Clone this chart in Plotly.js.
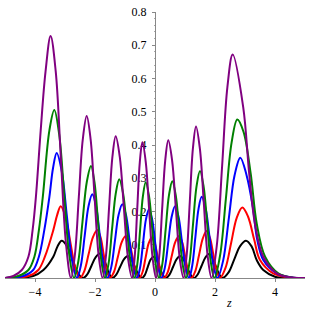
<!DOCTYPE html>
<html><head><meta charset="utf-8">
<script src="https://cdn.plot.ly/plotly-3.0.1.min.js"></script>
<style>html,body{margin:0;padding:0;background:#fff;}#plot{width:312px;height:312px;}</style>
</head><body><div id="plot"></div>
<script>
const xTickVals = [-4, -2, 0, 2, 4];
const xTickText = ["\u22124", "\u22122", "0", "2", "4"];
const yTickVals = [0.1, 0.2, 0.3, 0.4, 0.5, 0.6, 0.7, 0.8];

const blackX = [-5, -4.06, -3.72, -3.39, -3.25, -3.11, -2.933, -2.755, -2.578, -2.4,
  -2.258, -2.117, -1.975, -1.833, -1.729, -1.625, -1.521, -1.417,
  -1.29, -1.164, -1.037, -0.91, -0.791, -0.672, -0.552, -0.433,
  -0.339, -0.245, -0.151, -0.057, 0.049, 0.155, 0.261, 0.367,
  0.484, 0.6, 0.717, 0.833, 0.95, 1.067, 1.183, 1.3,
  1.425, 1.55, 1.675, 1.8, 1.913, 2.025, 2.138, 2.25,
  2.446, 2.642, 2.837, 3.033, 3.22, 3.39, 3.61, 4.0, 4.5, 5];
const blackY = [0, 0.006, 0.024, 0.064, 0.095, 0.112, 0.096, 0.056, 0.016, 0,
  0.011, 0.037, 0.063, 0.074, 0.063, 0.037, 0.011, 0,
  0.01, 0.033, 0.056, 0.066, 0.056, 0.033, 0.01, 0,
  0.009, 0.032, 0.055, 0.064, 0.055, 0.032, 0.009, 0,
  0.01, 0.033, 0.056, 0.066, 0.056, 0.033, 0.01, 0,
  0.011, 0.036, 0.061, 0.072, 0.061, 0.036, 0.011, 0,
  0.016, 0.056, 0.096, 0.112, 0.095, 0.054, 0.024, 0.004, 0.0005, 0];

const redX = [-5, -4.22, -3.89, -3.67, -3.39, -3.26, -3.143, -2.982, -2.822, -2.661, -2.5,
  -2.356, -2.212, -2.067, -1.923, -1.817, -1.712, -1.606, -1.5,
  -1.369, -1.239, -1.108, -0.977, -0.862, -0.747, -0.632, -0.517,
  -0.415, -0.314, -0.212, -0.11, -0.008, 0.095, 0.198, 0.3,
  0.425, 0.55, 0.675, 0.8, 0.904, 1.009, 1.113, 1.217,
  1.344, 1.47, 1.597, 1.723, 1.834, 1.945, 2.056, 2.167,
  2.353, 2.539, 2.724, 2.91, 3.1, 3.31, 3.5, 3.94, 4.5, 5];
const redY = [0, 0.006, 0.024, 0.064, 0.144, 0.19, 0.216, 0.184, 0.108, 0.032, 0,
  0.021, 0.072, 0.123, 0.144, 0.123, 0.072, 0.021, 0,
  0.018, 0.063, 0.108, 0.126, 0.108, 0.063, 0.018, 0,
  0.018, 0.061, 0.104, 0.122, 0.104, 0.061, 0.018, 0,
  0.018, 0.063, 0.108, 0.126, 0.108, 0.063, 0.018, 0,
  0.021, 0.07, 0.12, 0.141, 0.12, 0.07, 0.021, 0,
  0.031, 0.106, 0.181, 0.212, 0.185, 0.114, 0.054, 0.014, 0.001, 0];

const blueX = [-5, -4.39, -4.06, -3.87, -3.69, -3.52, -3.40, -3.277, -3.108, -2.939, -2.769, -2.6,
  -2.473, -2.345, -2.218, -2.09, -1.963, -1.837, -1.71, -1.583,
  -1.46, -1.337, -1.213, -1.09, -0.968, -0.845, -0.723, -0.6,
  -0.5, -0.4, -0.3, -0.2, -0.096, 0.009, 0.113, 0.217,
  0.33, 0.442, 0.555, 0.667, 0.784, 0.9, 1.017, 1.133,
  1.239, 1.345, 1.451, 1.557, 1.689, 1.82, 1.952, 2.083,
  2.273, 2.463, 2.653, 2.843, 3.05, 3.26, 3.41, 3.61, 4.06, 4.6, 5];
const blueY = [0, 0.006, 0.024, 0.064, 0.144, 0.244, 0.33, 0.376, 0.321, 0.188, 0.055, 0,
  0.037, 0.126, 0.215, 0.252, 0.215, 0.126, 0.037, 0,
  0.032, 0.111, 0.19, 0.222, 0.19, 0.111, 0.032, 0,
  0.03, 0.104, 0.177, 0.207, 0.177, 0.104, 0.03, 0,
  0.032, 0.108, 0.184, 0.216, 0.184, 0.108, 0.032, 0,
  0.036, 0.122, 0.208, 0.244, 0.208, 0.122, 0.036, 0,
  0.053, 0.181, 0.309, 0.362, 0.31, 0.214, 0.114, 0.054, 0.014, 0.001, 0];

const greenX = [-5, -4.56, -4.22, -4.02, -3.87, -3.74, -3.52, -3.357, -3.193, -3.029, -2.864, -2.7,
  -2.558, -2.417, -2.275, -2.133, -2.017, -1.9, -1.784, -1.667,
  -1.548, -1.429, -1.309, -1.19, -1.063, -0.937, -0.81, -0.683,
  -0.59, -0.497, -0.403, -0.31, -0.199, -0.089, 0.022, 0.133,
  0.244, 0.355, 0.466, 0.577, 0.691, 0.805, 0.919, 1.033,
  1.15, 1.267, 1.383, 1.5, 1.621, 1.742, 1.862, 1.983,
  2.173, 2.363, 2.553, 2.743, 2.95, 3.19, 3.39, 3.67, 4.11, 4.6, 5];
const greenY = [0, 0.006, 0.024, 0.064, 0.144, 0.244, 0.444, 0.505, 0.431, 0.253, 0.074, 0,
  0.049, 0.169, 0.288, 0.337, 0.288, 0.169, 0.049, 0,
  0.043, 0.149, 0.254, 0.297, 0.254, 0.149, 0.043, 0,
  0.042, 0.144, 0.246, 0.288, 0.246, 0.144, 0.042, 0,
  0.042, 0.146, 0.249, 0.291, 0.249, 0.146, 0.042, 0,
  0.047, 0.161, 0.275, 0.322, 0.275, 0.161, 0.047, 0,
  0.07, 0.239, 0.407, 0.477, 0.44, 0.314, 0.164, 0.064, 0.014, 0.001, 0];

const purpleX = [-5, -4.72, -4.44, -4.22, -4.08, -3.97, -3.81, -3.65, -3.48, -3.31, -3.14, -2.97, -2.8,
  -2.669, -2.539, -2.408, -2.277, -2.145, -2.014, -1.882, -1.75,
  -1.64, -1.53, -1.42, -1.31, -1.174, -1.039, -0.903, -0.767,
  -0.68, -0.594, -0.507, -0.42, -0.307, -0.194, -0.08, 0.033,
  0.136, 0.238, 0.341, 0.443, 0.57, 0.697, 0.823, 0.95,
  1.054, 1.159, 1.263, 1.367, 1.496, 1.625, 1.754, 1.883,
  2.06, 2.237, 2.413, 2.59, 2.94, 3.14, 3.33, 3.61, 4.06, 4.5, 5];
const purpleY = [0, 0.006, 0.024, 0.064, 0.144, 0.244, 0.444, 0.62, 0.728, 0.622, 0.364, 0.106, 0,
  0.071, 0.244, 0.416, 0.487, 0.416, 0.244, 0.071, 0,
  0.062, 0.213, 0.364, 0.426, 0.364, 0.213, 0.062, 0,
  0.06, 0.204, 0.348, 0.408, 0.348, 0.204, 0.06, 0,
  0.06, 0.207, 0.354, 0.414, 0.354, 0.207, 0.06, 0,
  0.067, 0.228, 0.389, 0.456, 0.389, 0.228, 0.067, 0,
  0.098, 0.336, 0.574, 0.672, 0.514, 0.314, 0.164, 0.064, 0.014, 0.002, 0];

const series = [
  {x: blackX, y: blackY, color: "#000000"},
  {x: redX, y: redY, color: "#ff0000"},
  {x: blueX, y: blueY, color: "#0000ff"},
  {x: greenX, y: greenY, color: "#008000"},
  {x: purpleX, y: purpleY, color: "#800080"}
];

const traces = series.map(s => ({
  type: "scatter", mode: "lines", x: s.x, y: s.y,
  line: {color: s.color, width: 2, shape: "spline", smoothing: 1},
  hoverinfo: "skip", showlegend: false
}));

const serif = "Liberation Serif";
const tickFont = {family: serif, size: 12, color: "#000"};

const layout = {
  width: 312, height: 312,
  margin: {l: 5, r: 7, t: 12, b: 34},
  paper_bgcolor: "#fff", plot_bgcolor: "#fff",
  showlegend: false,
  font: {family: serif, size: 12, color: "#000"},
  xaxis: {
    range: [-5, 5], showgrid: false, zeroline: false,
    showline: true, linecolor: "#888", linewidth: 1,
    tickmode: "array", tickvals: xTickVals, ticktext: xTickText,
    ticks: "outside", ticklen: 3, tickcolor: "#888",
    tickfont: tickFont, layer: "below traces", fixedrange: true
  },
  yaxis: {
    range: [0, 0.8], showgrid: false, zeroline: false,
    anchor: "free", position: 0.5,
    showline: true, linecolor: "#888", linewidth: 1,
    tickmode: "array", tickvals: yTickVals,
    ticks: "outside", ticklen: 3, tickcolor: "#888", ticklabelstandoff: 3,
    minor: {dtick: 0.02, ticks: "outside", ticklen: 1.5, tickcolor: "#aaa"},
    tickfont: tickFont, layer: "below traces", fixedrange: true
  },
  annotations: [{
    text: "<i>z</i>", xref: "x", yref: "paper", x: 2.47, y: -0.093, yanchor: "middle",
    showarrow: false, font: {family: serif, size: 12, color: "#000"}
  }]
};

Plotly.newPlot("plot", traces, layout, {staticPlot: true, displayModeBar: false});
</script>
</body></html>
